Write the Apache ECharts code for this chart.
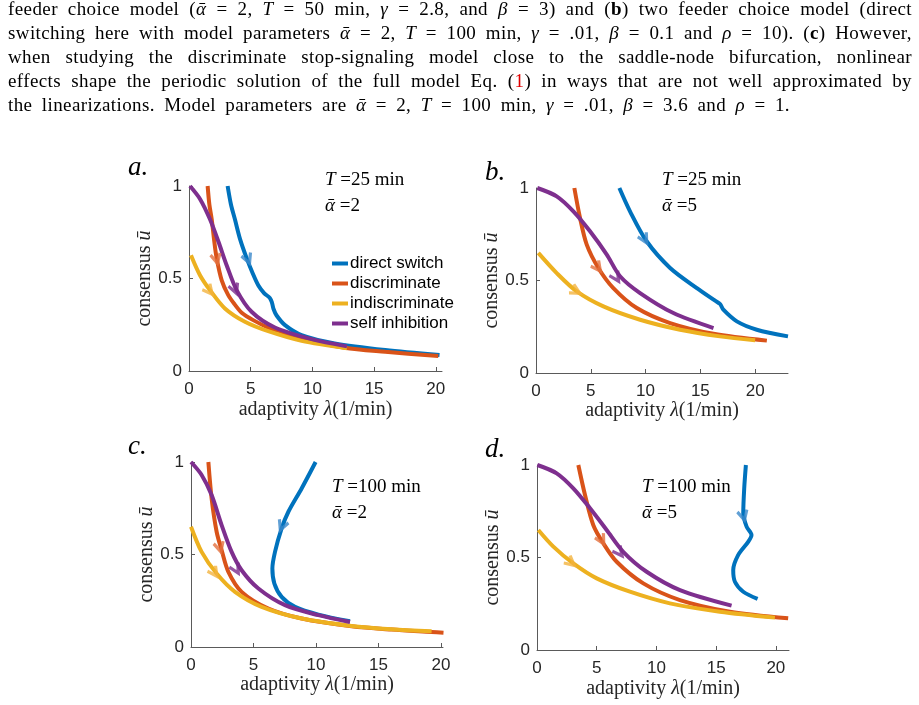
<!DOCTYPE html>
<html>
<head>
<meta charset="utf-8">
<script src="https://cdn.jsdelivr.net/npm/echarts@6/dist/echarts.min.js"></script>
<style>
html, body { margin: 0; padding: 0; background: #fff; }
#main { position: absolute; left: 0; top: 0; width: 919px; height: 705px; }
#caption { position: absolute; left: 8px; top: -3px; font-family: 'Liberation Serif', 'DejaVu Serif', serif; font-size: 19px; letter-spacing: 0.4px; color: #000; }
#caption div { width: 904px; height: 24px; line-height: 24px; text-align: justify; text-align-last: justify; }
#caption div.last { width: 782px; }
.red { color: #e00000; }
</style>
</head>
<body>
<div id="main"></div>
<div id="caption">
  <div>feeder choice model (<i>ᾱ</i> = 2, <i>T</i> = 50 min, <i>γ</i> = 2.8, and <i>β</i> = 3) and (<b>b</b>) two feeder choice model (direct</div>
  <div>switching here with model parameters <i>ᾱ</i> = 2, <i>T</i> = 100 min, <i>γ</i> = .01, <i>β</i> = 0.1 and <i>ρ</i> = 10). (<b>c</b>) However,</div>
  <div>when studying the discriminate stop-signaling model close to the saddle-node bifurcation, nonlinear</div>
  <div>effects shape the periodic solution of the full model Eq. (<span class="red">1</span>) in ways that are not well approximated by</div>
  <div class="last">the linearizations. Model parameters are <i>ᾱ</i> = 2, <i>T</i> = 100 min, <i>γ</i> = .01, <i>β</i> = 3.6 and <i>ρ</i> = 1.</div>
</div>
<script>
// names and tick values
const names = ['direct switch', 'discriminate', 'indiscriminate', 'self inhibition']
const xTicks = [0, 5, 10, 15, 20]
const yTicks = [0, 0.5, 1]
const xMax = [20.5, 23, 20.16, 21.1]
const panelLetters = ['a.', 'b.', 'c.', 'd.']
const periods = ['25', '25', '100', '100']
const alphas = ['2', '5', '2', '5']

// panel a: T = 25, alpha = 2
const aDirect = [[3.13, 1.0], [3.4, 0.9], [3.72, 0.82], [4.15, 0.71], [4.67, 0.61], [5.15, 0.53], [5.61, 0.464], [6.1, 0.42], [6.55, 0.395], [6.72, 0.37], [6.85, 0.335], [7.1, 0.3], [7.78, 0.248], [9.12, 0.194], [11.8, 0.149], [15.9, 0.113], [20.3, 0.086]]
const aDiscr = [[1.51, 1.0], [1.65, 0.9], [1.84, 0.82], [2.05, 0.7], [2.24, 0.61], [2.65, 0.49], [3.18, 0.41], [3.7, 0.36], [4.27, 0.315], [5.2, 0.275], [6.42, 0.235], [7.5, 0.212], [9.12, 0.176], [12.6, 0.126], [15.9, 0.104], [20.2, 0.081]]
const aIndiscr = [[0.16, 0.626], [0.89, 0.518], [1.7, 0.437], [2.91, 0.338], [4.53, 0.266], [6.42, 0.215], [9.12, 0.163], [12.8, 0.123]]
const aSelf = [[0.08, 1.0], [0.89, 0.93], [1.7, 0.82], [2.38, 0.7], [3.05, 0.572], [3.86, 0.437], [5.07, 0.32], [6.96, 0.235], [9.93, 0.172], [12.8, 0.133]]
const aArrows = [[4.8, 0.6], [2.24, 0.6], [1.7, 0.43], [3.75, 0.437]]

// panel b: T = 25, alpha = 5
const bDirect = [[7.61, 1.0], [8.58, 0.874], [10.1, 0.712], [12.24, 0.568], [14.68, 0.459], [16.35, 0.391], [16.8, 0.373], [17.1, 0.342], [18.33, 0.279], [20.15, 0.234], [23.0, 0.198]]
const bDiscr = [[3.5, 1.0], [4.02, 0.838], [4.63, 0.694], [5.69, 0.568], [7.06, 0.459], [9.2, 0.351], [12.24, 0.27], [16.2, 0.212], [21.07, 0.175]]
const bIndiscr = [[0.21, 0.649], [1.89, 0.54], [3.72, 0.441], [6.15, 0.36], [9.5, 0.288], [13.15, 0.234], [16.8, 0.198], [20.0, 0.177]]
const bSelf = [[0.12, 1.0], [1.89, 0.955], [3.41, 0.874], [4.93, 0.766], [6.46, 0.64], [7.67, 0.523], [9.5, 0.432], [12.54, 0.324], [16.2, 0.243]]
const bArrows = [[9.95, 0.719], [5.69, 0.566], [3.72, 0.44], [7.37, 0.512]]

// panel c: T = 100, alpha = 2
const cDirect = [[9.97, 1.0], [8.85, 0.857], [7.79, 0.731], [7.25, 0.641], [6.72, 0.514], [6.51, 0.424], [6.67, 0.343], [7.25, 0.271], [8.32, 0.217], [10.19, 0.175], [12.72, 0.139]]
const cDiscr = [[1.39, 1.0], [1.65, 0.803], [2.05, 0.623], [2.45, 0.524], [2.99, 0.406], [4.05, 0.298], [6.19, 0.208], [8.85, 0.154], [12.85, 0.112], [16.05, 0.094], [19.25, 0.081], [20.2, 0.077]]
const cIndiscr = [[0.0, 0.65], [0.85, 0.514], [2.05, 0.397], [3.52, 0.298], [5.65, 0.217], [8.85, 0.154], [12.85, 0.114], [16.05, 0.096], [19.25, 0.085]]
const cSelf = [[0.0, 1.0], [0.85, 0.93], [1.65, 0.821], [2.45, 0.659], [3.25, 0.514], [4.05, 0.415], [5.39, 0.316], [7.52, 0.226], [10.19, 0.172], [12.72, 0.135]]
const cArrows = [[7.25, 0.65], [2.32, 0.533], [1.92, 0.397], [3.65, 0.415]]

// panel d: T = 100, alpha = 5
const dDirect = [[17.49, 1.0], [17.35, 0.874], [17.27, 0.739], [17.55, 0.667], [17.96, 0.622], [17.68, 0.585], [16.85, 0.514], [16.43, 0.432], [16.57, 0.369], [17.27, 0.315], [18.47, 0.276]]
const dDiscr = [[3.46, 1.0], [4.02, 0.838], [4.71, 0.676], [5.55, 0.577], [6.67, 0.477], [8.9, 0.36], [11.97, 0.27], [16.15, 0.207], [21.03, 0.171]]
const dIndiscr = [[0.11, 0.649], [1.37, 0.559], [3.04, 0.468], [5.0, 0.387], [7.78, 0.315], [11.13, 0.252], [15.31, 0.207], [19.92, 0.175]]
const dSelf = [[0.03, 1.0], [1.65, 0.955], [3.04, 0.874], [4.44, 0.766], [5.83, 0.649], [7.22, 0.531], [9.18, 0.423], [11.97, 0.324], [16.29, 0.24]]
const dArrows = [[17.3, 0.72], [5.45, 0.59], [2.9, 0.469], [6.95, 0.523]]

const panels = [
  { curves: [aDirect, aDiscr, aIndiscr, aSelf], arrows: aArrows },
  { curves: [bDirect, bDiscr, bIndiscr, bSelf], arrows: bArrows },
  { curves: [cDirect, cDiscr, cIndiscr, cSelf], arrows: cArrows },
  { curves: [dDirect, dDiscr, dIndiscr, dSelf], arrows: dArrows }
]

const lineColors = ['#0072BD', '#D95319', '#EDB120', '#7E2F8E']
const arrowColors = ['#3A88CA', '#E3703F', '#F2B33E', '#7A2A8C']
const arrowPath = 'path://M6,0 L12,11 L9.4,12.5 L6,6.6 L2.6,12.5 L0,11 Z'

const grids = [
  { left: 189, top: 186, width: 253, height: 185 },
  { left: 536, top: 188, width: 252, height: 185 },
  { left: 191, top: 462, width: 252, height: 185 },
  { left: 537, top: 465, width: 252, height: 185 }
]
const xNameGap = [29, 28, 25, 29]
const yNameGap = [28, 28, 30, 28]

const sans = 'Liberation Sans'
const serif = 'Liberation Serif'
const axisColor = '#5a5a5a'
const textColor = '#262626'

const chart = echarts.init(document.getElementById('main'))

const xAxes = grids.map((g, i) => ({
  type: 'value',
  gridIndex: i,
  min: 0,
  max: xMax[i],
  axisLine: { show: true, lineStyle: { color: axisColor, width: 1 } },
  axisTick: { show: true, inside: true, length: 4, customValues: xTicks, lineStyle: { color: axisColor } },
  axisLabel: { customValues: xTicks, margin: 10, fontSize: 17, fontFamily: sans, color: textColor },
  splitLine: { show: false },
  name: 'adaptivity {i|λ}(1/min)',
  nameLocation: 'middle',
  nameGap: xNameGap[i],
  nameTextStyle: {
    fontFamily: serif, fontSize: 20, color: textColor,
    rich: { i: { fontFamily: serif, fontStyle: 'italic', fontSize: 20, color: textColor } }
  }
}))

const yAxes = grids.map((g, i) => ({
  type: 'value',
  gridIndex: i,
  min: 0,
  max: 1,
  axisLine: { show: true, lineStyle: { color: axisColor, width: 1 } },
  axisTick: { show: true, inside: true, length: 4, customValues: yTicks, lineStyle: { color: axisColor } },
  axisLabel: { customValues: yTicks, margin: 7, fontSize: 17, fontFamily: sans, color: textColor },
  splitLine: { show: false },
  name: 'consensus {i|ū}',
  nameLocation: 'middle',
  nameGap: yNameGap[i],
  nameTextStyle: {
    fontFamily: serif, fontSize: 20, color: textColor,
    rich: { i: { fontFamily: serif, fontStyle: 'italic', fontSize: 20, color: textColor } }
  }
}))

const series = []
panels.forEach((p, i) => {
  p.curves.forEach((c, k) => {
    series.push({
      type: 'line',
      name: names[k],
      xAxisIndex: i,
      yAxisIndex: i,
      data: c,
      showSymbol: false,
      smooth: 0.3,
      lineStyle: { color: lineColors[k], width: 4 },
      itemStyle: { color: lineColors[k] },
      z: 2
    })
  })
  series.push({
    id: 'arrows' + i,
    type: 'scatter',
    xAxisIndex: i,
    yAxisIndex: i,
    symbol: arrowPath,
    symbolSize: [13, 14],
    symbolKeepAspect: true,
    data: p.arrows.map((a, k) => ({ value: a, itemStyle: { color: arrowColors[k] } })),
    z: 3,
    silent: true
  })
})

const graphics = []
const letterX = [128, 485, 128, 485]
const letterY = [168, 173, 447, 450]
grids.forEach((g, i) => {
  graphics.push({
    type: 'text',
    style: { text: panelLetters[i], x: letterX[i], y: letterY[i], font: 'italic 27px ' + serif, fill: '#000', verticalAlign: 'middle' }
  })
})
const noteX = [325, 662, 332, 642]
const noteY = [180, 180, 487, 487]
grids.forEach((g, i) => {
  graphics.push({
    type: 'text',
    style: {
      text: '{i|T} =' + periods[i] + ' min',
      x: noteX[i], y: noteY[i],
      verticalAlign: 'middle',
      font: '19px ' + serif, fill: '#000',
      rich: { i: { fontFamily: serif, fontStyle: 'italic', fontSize: 19, fill: '#000' } }
    }
  })
  graphics.push({
    type: 'text',
    style: {
      text: '{i|ᾱ} =' + alphas[i],
      x: noteX[i], y: noteY[i] + 26,
      verticalAlign: 'middle',
      font: '19px ' + serif, fill: '#000',
      rich: { i: { fontFamily: "'Liberation Serif', 'DejaVu Serif'", fontStyle: 'italic', fontSize: 19, fill: '#000' } }
    }
  })
})

chart.setOption({
  animation: false,
  grid: grids,
  xAxis: xAxes,
  yAxis: yAxes,
  legend: {
    data: names,
    orient: 'vertical',
    left: 332,
    top: 255,
    padding: 0,
    icon: 'rect',
    itemWidth: 16,
    itemHeight: 4,
    itemGap: 3,
    selectedMode: false,
    textStyle: { fontFamily: sans, fontSize: 17, color: '#000', lineHeight: 17, padding: [0, 0, 0, -3] }
  },
  series: series,
  graphic: graphics
})

// point each arrow along its curve, in the direction of travel
function arrowAngle (gi, curve, pt) {
  const px = curve.map(c => chart.convertToPixel({ gridIndex: gi }, c))
  const q = chart.convertToPixel({ gridIndex: gi }, pt)
  let best = 0
  let bd = Infinity
  for (let j = 0; j < px.length - 1; j++) {
    const ax = px[j][0], ay = px[j][1]
    const vx = px[j + 1][0] - ax, vy = px[j + 1][1] - ay
    const len2 = vx * vx + vy * vy || 1
    let t = ((q[0] - ax) * vx + (q[1] - ay) * vy) / len2
    t = Math.max(0, Math.min(1, t))
    const dx = ax + t * vx - q[0], dy = ay + t * vy - q[1]
    const d = dx * dx + dy * dy
    if (d < bd) { bd = d; best = j }
  }
  const dx = px[best + 1][0] - px[best][0]
  const dy = px[best + 1][1] - px[best][1]
  return Math.atan2(-dy, dx) * 180 / Math.PI - 90
}

chart.setOption({
  series: panels.map((p, i) => ({
    id: 'arrows' + i,
    data: p.arrows.map((a, k) => ({
      value: a,
      symbolRotate: arrowAngle(i, p.curves[k], a),
      itemStyle: { color: arrowColors[k] }
    }))
  }))
})
</script>
</body>
</html>
